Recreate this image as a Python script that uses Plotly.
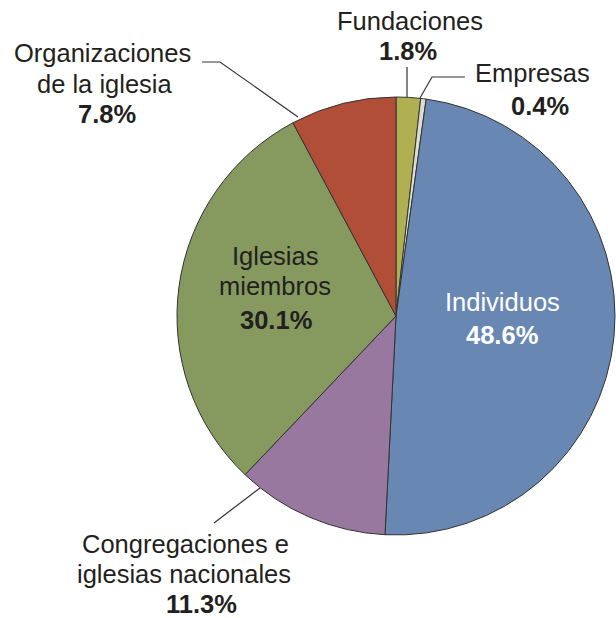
import plotly.graph_objects as go

labels = ["Fundaciones", "Empresas", "Individuos", "Congregaciones e iglesias nacionales",
          "Iglesias miembros", "Organizaciones de la iglesia"]
label_lines = [["Fundaciones"], ["Empresas"], ["Individuos"],
               ["Congregaciones e", "iglesias nacionales"],
               ["Iglesias", "miembros"], ["Organizaciones", "de la iglesia"]]
values = [1.8, 0.4, 48.6, 11.3, 30.1, 7.8]
colors = ["#b0b052", "#dddcd0", "#6888b3", "#99789f", "#869a5f", "#b04e38"]

W, H = 616, 618
cx, cy, r = 396, 316, 219

fig = go.Figure(go.Pie(
    labels=labels, values=values, sort=False, direction="clockwise", rotation=0,
    marker=dict(colors=colors, line=dict(color="#333333", width=1)),
    textinfo="none", hoverinfo="label+percent", showlegend=False,
    domain=dict(x=[(cx - r) / W, (cx + r) / W], y=[1 - (cy + r) / H, 1 - (cy - r) / H]),
))

FONT = "Liberation Sans, Arial, sans-serif"
DARK = "#231f20"
FS = 25.5

def px(x, y):
    return x / W, 1 - y / H

# per slice: list of (x, y) centers for each name line, then (x, y) for the percentage
label_pos = {
    0: ([(410, 21)], (408, 51), DARK),
    1: ([(532, 73)], (540, 106), DARK),
    2: ([(502, 302)], (502, 335), "white"),
    3: ([(185, 544), (184, 574)], (201, 604), DARK),
    4: ([(275, 256), (275, 286)], (276, 320), DARK),
    5: ([(103, 53), (104, 84)], (107, 114), DARK),
}

annotations = []
for i, (name_pos, pct_pos, col) in label_pos.items():
    for line, (nx, ny) in zip(label_lines[i], name_pos):
        ax_, ay_ = px(nx, ny)
        annotations.append(dict(x=ax_, y=ay_, xref="paper", yref="paper", text=line,
                                showarrow=False, xanchor="center", yanchor="middle",
                                font=dict(family=FONT, size=FS, color=col)))
    bx, by = px(*pct_pos)
    annotations.append(dict(x=bx, y=by, xref="paper", yref="paper",
                            text="<b>%.1f%%</b>" % values[i],
                            showarrow=False, xanchor="center", yanchor="middle",
                            font=dict(family=FONT, size=FS, color=col)))

leaders = [
    [(407, 67), (407, 97)],
    [(465, 77), (432, 77), (420, 98)],
    [(202, 62), (220, 62), (298, 117)],
    [(260, 488), (214, 523)],
]
shapes = []
for pts in leaders:
    path = "M " + " L ".join("%f,%f" % px(x, y) for x, y in pts)
    shapes.append(dict(type="path", xref="paper", yref="paper", path=path,
                       line=dict(color="#333333", width=1.2)))

fig.update_layout(width=W, height=H, margin=dict(l=0, r=0, t=0, b=0),
                  paper_bgcolor="white", plot_bgcolor="white",
                  annotations=annotations, shapes=shapes)
fig.write_html("out.html", config={"displayModeBar": False},
               post_script="document.body.style.margin='0';document.body.style.overflow='hidden';")
